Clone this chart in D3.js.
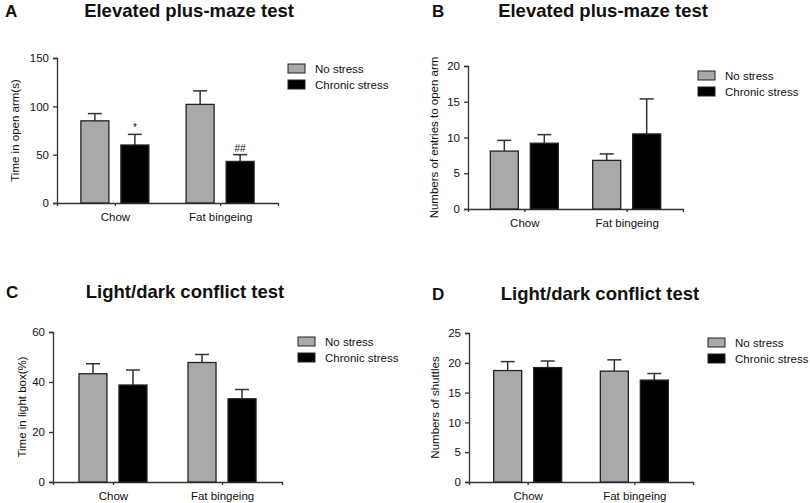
<!DOCTYPE html>
<html>
<head>
<meta charset="utf-8">
<script src="https://cdn.jsdelivr.net/npm/d3@7"></script>
<style>
  body { margin: 0; background: #fff; }
  text { font-family: "Liberation Sans", Arial, sans-serif; fill: #111; }
</style>
</head>
<body>
<div id="chart"></div>
<script>
// Shared categories and groups
const categories = ["Chow", "Fat bingeing"];
const seriesNames = ["No stress", "Chronic stress"];

// A: time in open arm (s)
const openArmNoStress = [85, 102];
const openArmNoStressErr = [7.5, 14];
const openArmStress = [60, 43];
const openArmStressErr = [11, 7];
const openArmMarks = ["*", "##"];   // above chronic stress bars

// B: entries to open arm
const entriesNoStress = [8.1, 6.8];
const entriesNoStressErr = [1.5, 0.9];
const entriesStress = [9.2, 10.5];
const entriesStressErr = [1.2, 4.9];

// C: time in light box (%)
const lightNoStress = [43.3, 47.8];
const lightNoStressErr = [4, 3.2];
const lightStress = [38.8, 33.3];
const lightStressErr = [6, 3.7];

// D: shuttles
const shuttlesNoStress = [18.7, 18.6];
const shuttlesNoStressErr = [1.5, 1.9];
const shuttlesStress = [19.2, 17.1];
const shuttlesStressErr = [1.1, 1.1];

const width = 810, height = 503;
const colors = ["#a9a9a9", "#000000"];

const svg = d3.select('#chart')
    .append('svg')
    .attr('width', width)
    .attr('height', height);

// panel layouts
const panels = [
  { letter: "A", title: "Elevated plus-maze test", ylabel: "Time in open arm(s)",
    left: 57, right: 278, top: 58, bottom: 203, yMax: 150, tickStep: 50,
    titleX: 189, titleY: 17, letterX: 5, ylabelX: 19, legendX: 288, legendY: 64,
    groups: [[openArmNoStress, openArmNoStressErr], [openArmStress, openArmStressErr]],
    marks: openArmMarks },
  { letter: "B", title: "Elevated plus-maze test", ylabel: "Numbers of entries to open arm",
    left: 468, right: 683, top: 66, bottom: 209, yMax: 20, tickStep: 5,
    titleX: 603, titleY: 17, letterX: 432, ylabelX: 438, legendX: 698, legendY: 71,
    groups: [[entriesNoStress, entriesNoStressErr], [entriesStress, entriesStressErr]] },
  { letter: "C", title: "Light/dark conflict test", ylabel: "Time in light box(%)",
    left: 53, right: 282, top: 332, bottom: 482, yMax: 60, tickStep: 20,
    titleX: 185, titleY: 298, letterX: 6, ylabelX: 26, legendX: 298, legendY: 337,
    groups: [[lightNoStress, lightNoStressErr], [lightStress, lightStressErr]] },
  { letter: "D", title: "Light/dark conflict test", ylabel: "Numbers of shuttles",
    left: 469, right: 693, top: 333, bottom: 482, yMax: 25, tickStep: 5,
    titleX: 600, titleY: 300, letterX: 432, ylabelX: 439, legendX: 708, legendY: 338,
    groups: [[shuttlesNoStress, shuttlesNoStressErr], [shuttlesStress, shuttlesStressErr]] }
];

panels.forEach(p => {
  const g = svg.append('g');

  const x = d3.scalePoint().domain(categories).range([p.left, p.right]).padding(0.55);
  const xs = d3.scaleBand().domain(seriesNames).range([-34, 34]).paddingInner(0.3);
  const y = d3.scaleLinear().domain([0, p.yMax]).range([p.bottom, p.top]);

  // title and panel letter
  g.append('text')
      .attr('x', p.titleX).attr('y', p.titleY)
      .attr('text-anchor', 'middle')
      .style('font-size', '18.5px').style('font-weight', 'bold')
      .text(p.title);
  g.append('text')
      .attr('x', p.letterX).attr('y', p.titleY)
      .style('font-size', '17px').style('font-weight', 'bold')
      .text(p.letter);

  // y axis
  const yAxis = g.append('g')
      .attr('transform', `translate(${p.left},0)`)
      .call(d3.axisLeft(y).tickValues(d3.range(0, p.yMax + 0.01, p.tickStep))
        .tickSize(4).tickPadding(4).tickFormat(d3.format('d')));
  yAxis.selectAll('text').style('font-size', '11.5px');

  // x axis
  const xAxis = g.append('g')
      .attr('transform', `translate(0,${p.bottom})`)
      .call(d3.axisBottom(x).tickSize(3).tickPadding(7));
  xAxis.selectAll('text').style('font-size', '11.5px');

  g.selectAll('.domain, .tick line').attr('stroke', '#333').attr('stroke-width', 1.3);

  g.append('text')
      .attr('transform', `translate(${p.ylabelX},${(p.top + p.bottom) / 2}) rotate(-90)`)
      .attr('text-anchor', 'middle')
      .style('font-size', '11.5px')
      .text(p.ylabel);

  // bars with error bars
  p.groups.forEach(([means, errs], si) => {
    const name = seriesNames[si];
    categories.forEach((c, ci) => {
      const bx = x(c) + xs(name);
      const bw = xs.bandwidth();
      const cx = bx + bw / 2;
      const top = y(means[ci]);
      const errTop = y(means[ci] + errs[ci]);

      g.append('line')
          .attr('x1', cx).attr('x2', cx)
          .attr('y1', top).attr('y2', errTop)
          .attr('stroke', '#333').attr('stroke-width', 1.5);
      g.append('line')
          .attr('x1', cx - bw / 4).attr('x2', cx + bw / 4)
          .attr('y1', errTop).attr('y2', errTop)
          .attr('stroke', '#333').attr('stroke-width', 1.5);

      g.append('rect')
          .attr('x', bx).attr('y', top)
          .attr('width', bw).attr('height', p.bottom - top)
          .attr('fill', colors[si])
          .attr('stroke', '#222').attr('stroke-width', 1.3);

      if (p.marks && si === 1) {
        g.append('text')
            .attr('x', cx).attr('y', errTop - 3)
            .attr('text-anchor', 'middle')
            .style('font-size', '10px')
            .text(p.marks[ci]);
      }
    });
  });

  // legend
  seriesNames.forEach((name, i) => {
    const ly = p.legendY + i * 16;
    g.append('rect')
        .attr('x', p.legendX).attr('y', ly)
        .attr('width', 17).attr('height', 9)
        .attr('fill', colors[i])
        .attr('stroke', '#222').attr('stroke-width', 1);
    g.append('text')
        .attr('x', p.legendX + 27).attr('y', ly + 8.5)
        .style('font-size', '11.5px')
        .text(name);
  });
});
</script>
</body>
</html>
